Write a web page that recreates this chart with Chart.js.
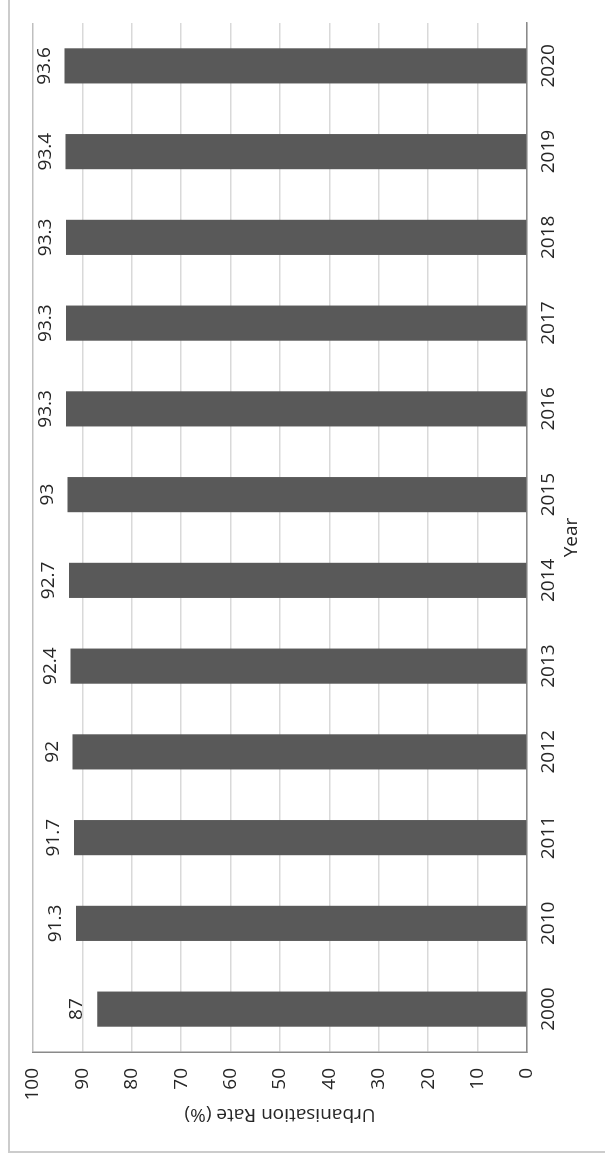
<!DOCTYPE html>
<html>
<head>
<meta charset="utf-8">
<script src="https://cdn.jsdelivr.net/npm/chart.js@4/dist/chart.umd.min.js"></script>
<style>
  html, body { margin: 0; padding: 0; background: #ffffff; overflow: hidden; }
  /* The chart is laid out landscape and turned a quarter-turn counter-clockwise onto the portrait page */
  #stage {
    position: absolute; left: 0; top: 0;
    width: 1158px; height: 605px;
    overflow: hidden;
    background: #ffffff;
    transform-origin: 0 0;
    transform: translate(0, 1158px) rotate(-90deg);
  }
  #frame {
    position: absolute; left: 5px; top: 8px;
    width: 1200px; height: 700px;
    border: 2px solid #cccccc;
    box-sizing: border-box;
  }
  #chart { position: absolute; left: 0; top: 0; }
</style>
</head>
<body>
<div id="stage">
  <div id="frame"></div>
  <canvas id="chart" width="1158" height="605"></canvas>
</div>
<script>
// Urbanisation rate by year (%)
const years = ['2000', '2010', '2011', '2012', '2013', '2014', '2015', '2016', '2017', '2018', '2019', '2020'];
const rates = [87, 91.3, 91.7, 92, 92.4, 92.7, 93, 93.3, 93.3, 93.3, 93.4, 93.6];
const rateTicks = [0, 10, 20, 30, 40, 50, 60, 70, 80, 90, 100];

const FONT = { family: "'Open Sans', sans-serif", size: 19 };
const TEXT = '#262626';

// Writes each bar's value just past its end
const valueLabels = {
  id: 'valueLabels',
  afterDatasetsDraw(chart) {
    const { ctx } = chart;
    const meta = chart.getDatasetMeta(0);
    ctx.save();
    ctx.font = `${FONT.size}px ${FONT.family}`;
    ctx.fillStyle = TEXT;
    ctx.textAlign = 'center';
    ctx.textBaseline = 'alphabetic';
    meta.data.forEach((bar, i) => {
      ctx.fillText(String(rates[i]), bar.x, bar.y - 15);
    });
    ctx.restore();
  }
};

new Chart(document.getElementById('chart'), {
  type: 'bar',
  data: {
    labels: years,
    datasets: [{
      data: rates,
      backgroundColor: '#595959',
      borderWidth: 0,
      categoryPercentage: 1,
      barPercentage: 0.41
    }]
  },
  options: {
    responsive: false,
    devicePixelRatio: 1,
    animation: false,
    layout: { padding: { left: 0, top: 33, right: 23, bottom: 0 } },
    plugins: { legend: { display: false }, tooltip: { enabled: false } },
    scales: {
      x: {
        grid: { display: false, drawTicks: false },
        border: { display: true, color: '#8a8a8a', width: 1.5 },
        ticks: { color: TEXT, font: FONT, padding: 10, maxRotation: 0, minRotation: 0 },
        title: { display: true, text: 'Year', color: TEXT, font: FONT, padding: { top: 0, bottom: 22 } },
        afterFit(scale) { scale.height = 78; }
      },
      y: {
        min: 0,
        max: 100,
        afterBuildTicks(scale) { scale.ticks = rateTicks.map(v => ({ value: v })); },
        grid: {
          color: ctx => (ctx.tick && ctx.tick.value === 100 ? '#bfbfbf' : '#d9d9d9'),
          lineWidth: 1.5,
          drawTicks: false
        },
        border: { display: true, color: '#8a8a8a', width: 1.5 },
        ticks: { color: TEXT, font: FONT, padding: 16 },
        title: { display: true, text: 'Urbanisation Rate (%)', color: TEXT, font: FONT, padding: { top: 32, bottom: 0 } },
        afterFit(scale) { scale.width = 106; }
      }
    }
  },
  plugins: [valueLabels]
});
</script>
</body>
</html>
